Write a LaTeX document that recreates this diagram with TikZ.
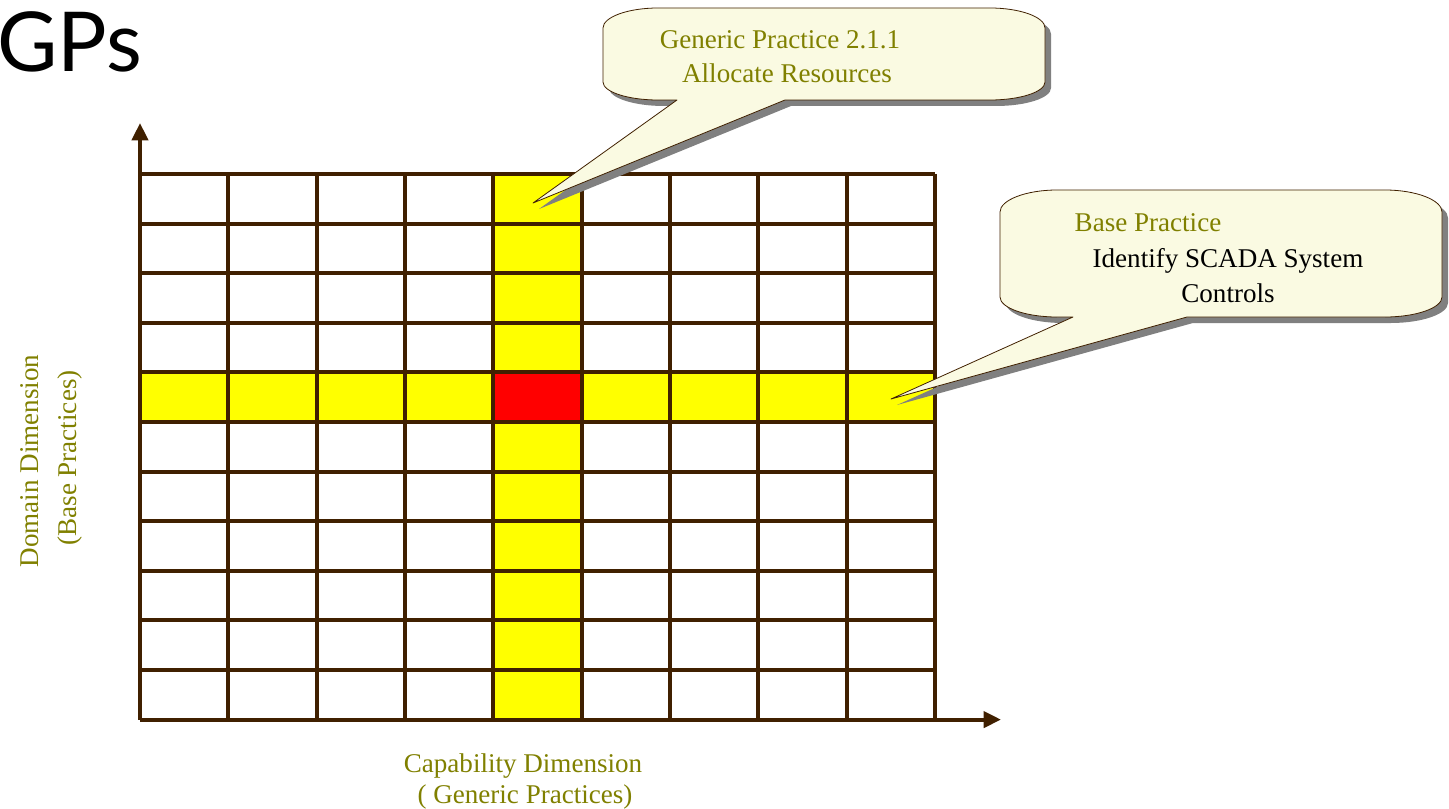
\documentclass[tikz,border=0pt]{standalone}
\usepackage{fontspec}
\setmainfont{Liberation Serif}
\newfontfamily\titlefont{Lato}
\usetikzlibrary{arrows.meta}
\definecolor{gridbrown}{RGB}{64,32,0}
\definecolor{olivetext}{RGB}{128,128,0}
\definecolor{calloutfill}{RGB}{250,250,226}
\definecolor{shadowgray}{RGB}{128,128,128}
\definecolor{hlyellow}{RGB}{255,255,0}
\definecolor{hlred}{RGB}{255,0,0}
\tikzset{
  gridline/.style={draw=gridbrown, line width=3pt},
  axisline/.style={draw=gridbrown, line width=3pt, -{Triangle[length=13pt,width=12pt]}},
  calloutbody/.style={fill=calloutfill, draw=gridbrown, line width=0.6pt, line join=round},
  calloutshadow/.style={fill=shadowgray},
  labeltext/.style={inner sep=0pt, font=\fontsize{20.3}{24}\selectfont, text=olivetext},
  blacktext/.style={inner sep=0pt, font=\fontsize{20.3}{24}\selectfont, text=black},
}
\begin{document}
\begin{tikzpicture}[x=0.75pt, y=-0.75pt]
\useasboundingbox (0,0) rectangle (1449,809);

% title
\node[inner sep=0pt, anchor=base west, font=\titlefont\fontsize{62}{64}\selectfont] (title) at (-3,72) {GPs};

% highlighted cells
\fill[hlyellow] (493.3,174) rectangle (581.7,719.6);
\fill[hlyellow] (140,372.4) rectangle (935,422);
\fill[hlred] (493.3,372.4) rectangle (581.7,422);

% grid
\foreach \i in {1,...,9} {
  \draw[gridline] ({140+\i*88.33},174) -- ({140+\i*88.33},719.6);
}
\foreach \j in {0,...,10} {
  \draw[gridline] (140,{174+\j*49.6}) -- (935,{174+\j*49.6});
}

% axes
\coordinate (O) at (140,719.6);
\coordinate (ytip) at (140,123);
\coordinate (xtip) at (1001,719.6);
\draw[axisline] (O) -- (ytip);
\draw[axisline] (O) -- (xtip);

% callout 1 (Generic Practice)
\begin{scope}[shift={(6,6)}]
\path[calloutshadow] (603,28) -- (603,82) .. controls (603,92) and (628,100) .. (658,100) -- (677,100) -- (533,203) -- (785,100) -- (990,100) .. controls (1020,100) and (1045,92) .. (1045,82) -- (1045,28) .. controls (1045,17) and (1020,8) .. (990,8) -- (658,8) .. controls (628,8) and (603,17) .. (603,28) -- cycle;
\end{scope}
\path[calloutbody] (603,28) -- (603,82) .. controls (603,92) and (628,100) .. (658,100) -- (677,100) -- (533,203) -- (785,100) -- (990,100) .. controls (1020,100) and (1045,92) .. (1045,82) -- (1045,28) .. controls (1045,17) and (1020,8) .. (990,8) -- (658,8) .. controls (628,8) and (603,17) .. (603,28) -- cycle;
\node[labeltext] (gp1) at (780,40) {Generic Practice 2.1.1};
\node[labeltext] (gp2) at (787,73) {Allocate Resources};

% callout 2 (Base Practice)
\begin{scope}[shift={(6,6)}]
\path[calloutshadow] (1000,212) -- (1000,297) .. controls (1000,308) and (1026,317) .. (1057,317) -- (1073,317) -- (891,399) -- (1187,317) -- (1385,317) .. controls (1416,317) and (1442,308) .. (1442,297) -- (1442,212) .. controls (1442,200) and (1416,190) .. (1385,190) -- (1057,190) .. controls (1026,190) and (1000,200) .. (1000,212) -- cycle;
\end{scope}
\path[calloutbody] (1000,212) -- (1000,297) .. controls (1000,308) and (1026,317) .. (1057,317) -- (1073,317) -- (891,399) -- (1187,317) -- (1385,317) .. controls (1416,317) and (1442,308) .. (1442,297) -- (1442,212) .. controls (1442,200) and (1416,190) .. (1385,190) -- (1057,190) .. controls (1026,190) and (1000,200) .. (1000,212) -- cycle;
\node[labeltext] (bp) at (1148,223) {Base Practice};
\node[blacktext] (id1) at (1228,261) {Identify SCADA System};
\node[blacktext] (id2) at (1228,293) {Controls};

% axis labels
\node[labeltext] (cap1) at (523,766) {Capability Dimension};
\node[labeltext] (cap2) at (525,797) {( Generic Practices)};
\node[labeltext, rotate=90] (dom1) at (30,461) {Domain Dimension};
\node[labeltext, rotate=90] (dom2) at (70,458) {(Base Practices)};
\end{tikzpicture}
\end{document}
